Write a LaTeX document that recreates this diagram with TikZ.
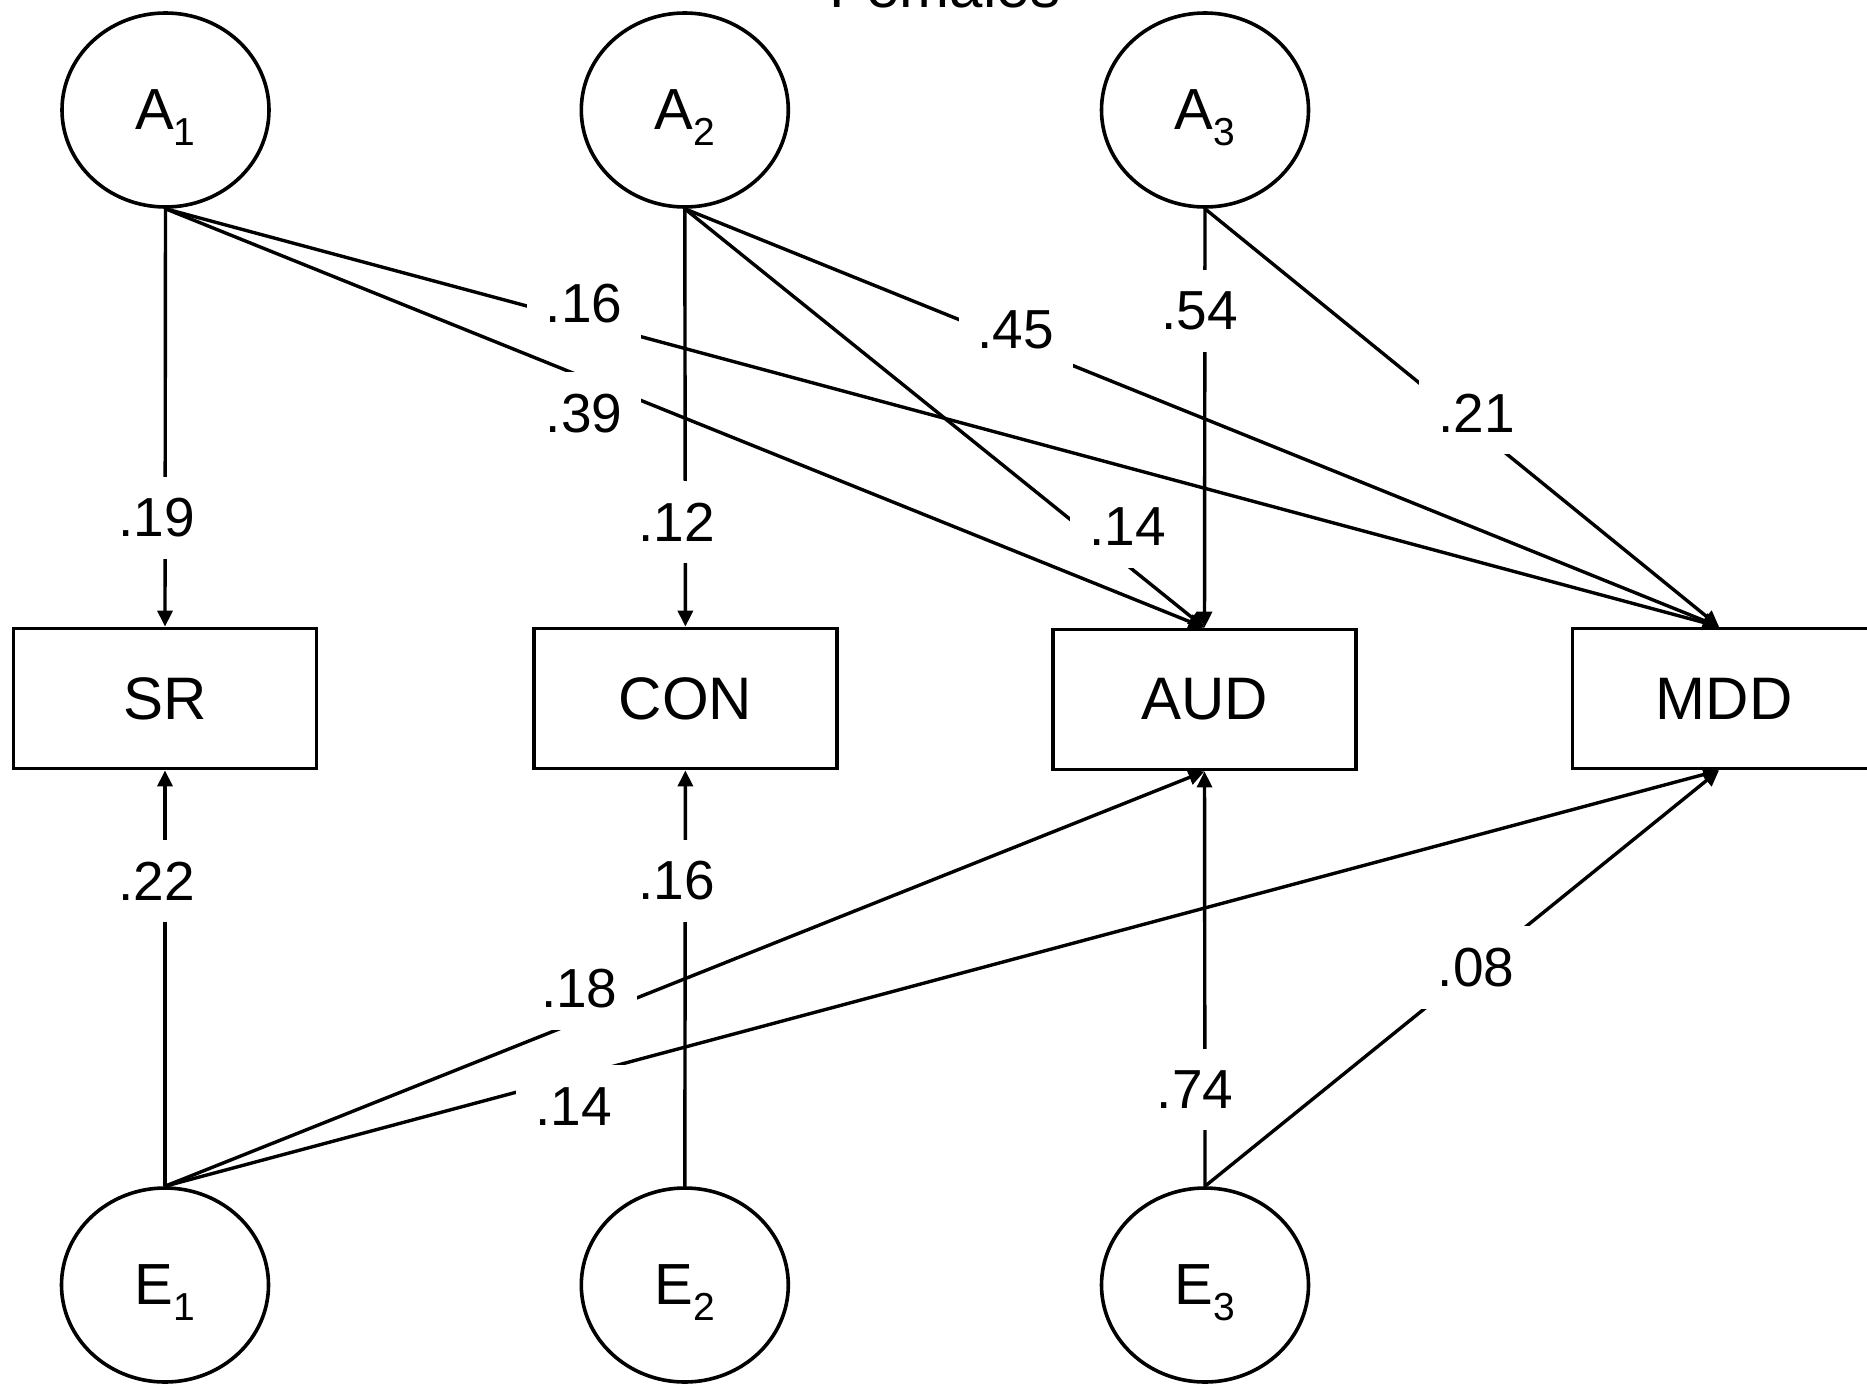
\documentclass[tikz,border=0pt]{standalone}
\usepackage{fontspec}
\setmainfont{Liberation Sans}
\usetikzlibrary{shapes.geometric,arrows.meta}
\newcommand\sbs[1]{\raisebox{-15.5pt}[0pt][0pt]{\fontsize{39pt}{39pt}\selectfont #1}}
\begin{document}
\begin{tikzpicture}[x=1pt,y=-1pt,
  lat/.style={ellipse,draw,line width=3.6pt,minimum width=207pt,minimum height=194pt,inner sep=0pt,font=\fontsize{58pt}{58pt}\selectfont},
  obs/.style={rectangle,draw,line width=3.8pt,minimum width=303pt,minimum height=140pt,inner sep=0pt,font=\fontsize{60pt}{60pt}\selectfont},
  conn/.style={line width=3.4pt,-{Triangle[length=16pt,width=15pt]}},
  lab/.style={fill=white,inner xsep=19pt,inner ysep=22pt,font=\fontsize{55pt}{55pt}\selectfont}]
\useasboundingbox (0,0) rectangle (1867,1383);
\node[anchor=base,font=\fontsize{60pt}{60pt}\selectfont] (title) at (945,8) {Females};
\node[lat] (A1) at (165.5,110) {A\sbs{1}};
\node[lat] (A2) at (684.8,110) {A\sbs{2}};
\node[lat] (A3) at (1205,110) {A\sbs{3}};
\node[lat] (E1) at (165,1285) {E\sbs{1}};
\node[lat] (E2) at (684.8,1285) {E\sbs{2}};
\node[lat] (E3) at (1205,1285) {E\sbs{3}};
\node[obs] (SR) at (165,698.5) {SR};
\node[obs] (CON) at (685.4,698.5) {CON};
\node[obs] (AUD) at (1204.5,699.5) {AUD};
\node[obs] (MDD) at (1724,698.5) {MDD};
\coordinate (MDDt) at ([xshift=-5pt]MDD.north);
\coordinate (MDDb) at ([xshift=-5pt]MDD.south);
\draw[conn] (A1.south) -- (SR.north);
\draw[conn] (A1.south) -- (MDDt);
\draw[conn] (A1.south) -- (AUD.north);
\draw[conn] (A2.south) -- (CON.north);
\draw[conn] (A2.south) -- (AUD.north);
\draw[conn] (A2.south) -- (MDDt);
\draw[conn] (A3.south) -- (AUD.north);
\draw[conn] (A3.south) -- (MDDt);
\draw[conn] (E1.north) -- (SR.south);
\draw[conn] (E1.north) -- (AUD.south);
\draw[conn] (E1.north) -- (MDDb);
\draw[conn] (E2.north) -- (CON.south);
\draw[conn] (E3.north) -- (AUD.south);
\draw[conn] (E3.north) -- (MDDb);
\node[lab] (l1) at (156.7,518) {.19};
\node[lab] (l2) at (584,304) {.16};
\node[lab] (l3) at (584,413.5) {.39};
\node[lab] (l4) at (676.5,522) {.12};
\node[lab] (l5) at (1127.5,527) {.14};
\node[lab] (l6) at (1015.8,329.5) {.45};
\node[lab] (l7) at (1199.7,310.7) {.54};
\node[lab] (l8) at (1476.5,413) {.21};
\node[lab] (l9) at (156.7,881.2) {.22};
\node[lab] (l10) at (579.3,988.8) {.18};
\node[lab] (l11) at (573.7,1106.2) {.14};
\node[lab] (l12) at (676.5,881) {.16};
\node[lab] (l13) at (1195,1089.5) {.74};
\node[lab] (l14) at (1476,967.8) {.08};
\end{tikzpicture}
\end{document}
